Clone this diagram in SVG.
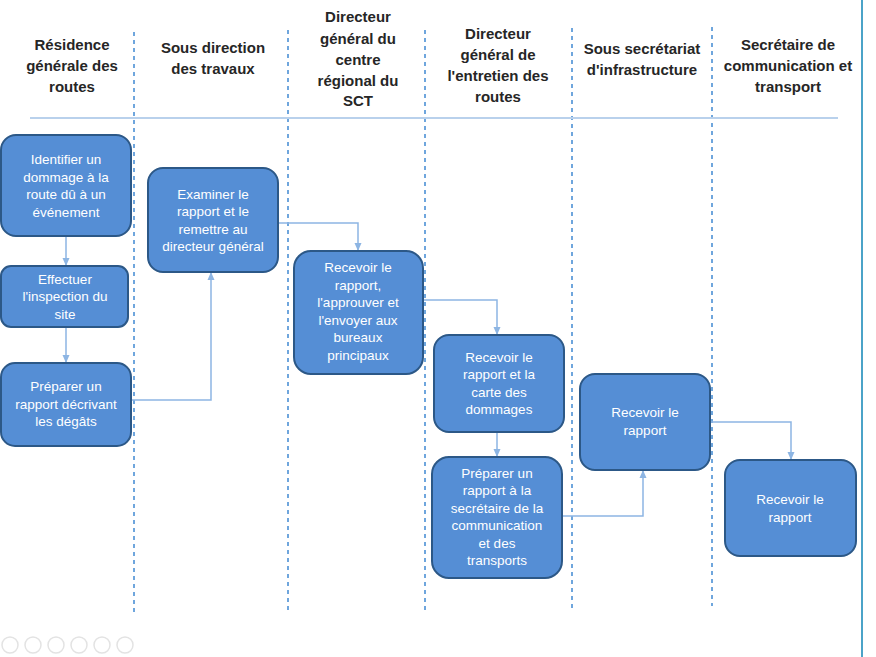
<svg xmlns="http://www.w3.org/2000/svg" width="876" height="657" viewBox="0 0 876 657">
<style>
.hd{font-family:"Liberation Sans",Arial,sans-serif;font-weight:bold;font-size:15px;fill:#262626;text-anchor:middle}
.bx{fill:#558ED5;stroke:#2C5887;stroke-width:2}
.tx{font-family:"Liberation Sans",Arial,sans-serif;font-size:13.5px;fill:#FFFFFF;text-anchor:middle}
.lane{stroke:#6FA6DD;stroke-width:2;stroke-dasharray:4,4;fill:none}
.cn{stroke:#8DB5E3;stroke-width:1.5;fill:none;marker-end:url(#ah)}
.ic{fill:none;stroke:#E3E3E3;stroke-width:1.5}
</style>
<defs>
<marker id="ah" markerWidth="8" markerHeight="8" refX="7" refY="4" orient="auto" markerUnits="userSpaceOnUse">
<path d="M0,0.5 L8,4 L0,7.5 Z" fill="#8DB5E3"/>
</marker>
</defs>
<rect width="876" height="657" fill="#FFFFFF"/>
<line x1="862" y1="0" x2="862" y2="657" stroke="#4BA3C8" stroke-width="2"/>
<g id="lanes">
<line class="lane" x1="134" y1="32" x2="134" y2="612"/>
<line class="lane" x1="288" y1="30" x2="288" y2="612"/>
<line class="lane" x1="425" y1="30" x2="425" y2="612"/>
<line class="lane" x1="572" y1="28" x2="572" y2="612"/>
<line class="lane" x1="712" y1="27" x2="712" y2="606"/>
<line x1="30" y1="118" x2="838" y2="118" stroke="#B9D1EC" stroke-width="2"/>
</g>
<g id="headers">
<text class="hd" x="72" y="50">Résidence</text>
<text class="hd" x="72" y="71">générale des</text>
<text class="hd" x="72" y="92">routes</text>
<text class="hd" x="213" y="53">Sous direction</text>
<text class="hd" x="213" y="74">des travaux</text>
<text class="hd" x="358" y="22">Directeur</text>
<text class="hd" x="358" y="44">général du</text>
<text class="hd" x="358" y="65">centre</text>
<text class="hd" x="358" y="86">régional du</text>
<text class="hd" x="358" y="106">SCT</text>
<text class="hd" x="498" y="39">Directeur</text>
<text class="hd" x="498" y="60">général de</text>
<text class="hd" x="498" y="81">l'entretien des</text>
<text class="hd" x="498" y="102">routes</text>
<text class="hd" x="642" y="54">Sous secrétariat</text>
<text class="hd" x="642" y="75">d'infrastructure</text>
<text class="hd" x="788" y="50">Secrétaire de</text>
<text class="hd" x="788" y="71">communication et</text>
<text class="hd" x="788" y="92">transport</text>
</g>
<g id="connectors">
<path class="cn" d="M66,236 V265"/>
<path class="cn" d="M66,327 V362"/>
<path class="cn" d="M131,400 H211 V273"/>
<path class="cn" d="M278,223 H358 V250"/>
<path class="cn" d="M423,300 H497 V334"/>
<path class="cn" d="M497,432 V456"/>
<path class="cn" d="M562,516 H643 V471"/>
<path class="cn" d="M710,422 H791 V459"/>
</g>
<g id="n1">
<rect class="bx" x="1" y="135" width="130" height="101" rx="15"/>
<text class="tx" x="66" y="164">Identifier un</text>
<text class="tx" x="66" y="182">dommage à la</text>
<text class="tx" x="66" y="199">route dû à un</text>
<text class="tx" x="66" y="217">événement</text>
</g>
<g id="n2">
<rect class="bx" x="1" y="266" width="127" height="61" rx="10"/>
<text class="tx" x="65" y="284">Effectuer</text>
<text class="tx" x="65" y="301">l'inspection du</text>
<text class="tx" x="65" y="319">site</text>
</g>
<g id="n3">
<rect class="bx" x="1" y="363" width="130" height="83" rx="14"/>
<text class="tx" x="66" y="391">Préparer un</text>
<text class="tx" x="66" y="409">rapport décrivant</text>
<text class="tx" x="66" y="426">les dégâts</text>
</g>
<g id="n4">
<rect class="bx" x="148" y="168" width="130" height="104" rx="15"/>
<text class="tx" x="213" y="199">Examiner le</text>
<text class="tx" x="213" y="216">rapport et le</text>
<text class="tx" x="213" y="234">remettre au</text>
<text class="tx" x="213" y="251">directeur général</text>
</g>
<g id="n5">
<rect class="bx" x="294" y="251" width="129" height="123" rx="17"/>
<text class="tx" x="358" y="272">Recevoir le</text>
<text class="tx" x="358" y="290">rapport,</text>
<text class="tx" x="358" y="307">l'approuver et</text>
<text class="tx" x="358" y="325">l'envoyer aux</text>
<text class="tx" x="358" y="342">bureaux</text>
<text class="tx" x="358" y="360">principaux</text>
</g>
<g id="n6">
<rect class="bx" x="434" y="335" width="130" height="97" rx="15"/>
<text class="tx" x="499" y="362">Recevoir le</text>
<text class="tx" x="499" y="379">rapport et la</text>
<text class="tx" x="499" y="397">carte des</text>
<text class="tx" x="499" y="414">dommages</text>
</g>
<g id="n7">
<rect class="bx" x="432" y="457" width="130" height="121" rx="17"/>
<text class="tx" x="497" y="478">Préparer un</text>
<text class="tx" x="497" y="495">rapport à la</text>
<text class="tx" x="497" y="513">secrétaire de la</text>
<text class="tx" x="497" y="530">communication</text>
<text class="tx" x="497" y="548">et des</text>
<text class="tx" x="497" y="565">transports</text>
</g>
<g id="n8">
<rect class="bx" x="580" y="374" width="130" height="96" rx="15"/>
<text class="tx" x="645" y="417">Recevoir le</text>
<text class="tx" x="645" y="435">rapport</text>
</g>
<g id="n9">
<rect class="bx" x="725" y="460" width="131" height="96" rx="15"/>
<text class="tx" x="790" y="504">Recevoir le</text>
<text class="tx" x="790" y="522">rapport</text>
</g>
<g id="toolbar">
<circle class="ic" cx="10" cy="645" r="8"/>
<circle class="ic" cx="33" cy="645" r="8"/>
<circle class="ic" cx="56" cy="645" r="8"/>
<circle class="ic" cx="79" cy="645" r="8"/>
<circle class="ic" cx="102" cy="645" r="8"/>
<circle class="ic" cx="125" cy="645" r="8"/>
</g>
</svg>
